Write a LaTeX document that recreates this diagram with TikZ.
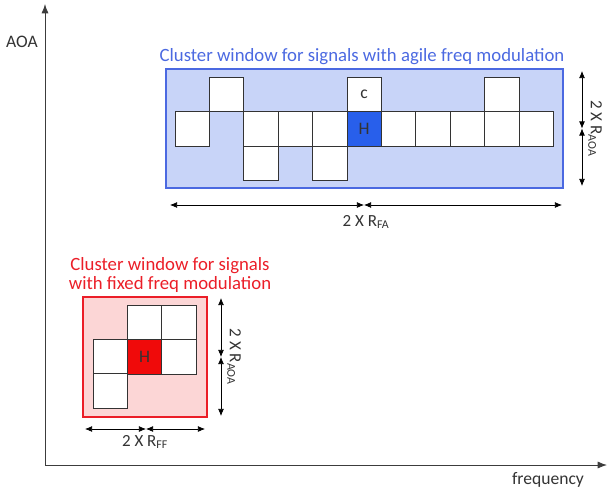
\documentclass[tikz,border=0pt]{standalone}
\usepackage{fontspec}
\setmainfont{Carlito}
\usetikzlibrary{arrows.meta}
\definecolor{agileblue}{RGB}{75,105,225}
\definecolor{agilefill}{RGB}{200,212,248}
\definecolor{agileh}{RGB}{40,95,235}
\definecolor{fixedred}{RGB}{235,30,40}
\definecolor{fixedfill}{RGB}{252,214,214}
\definecolor{fixedh}{RGB}{240,10,10}
\definecolor{axisgray}{RGB}{60,60,60}
\begin{document}
\begin{tikzpicture}[x=0.03cm,y=-0.03cm,
    cell/.style={draw=black!80,fill=white,minimum size=1.03cm,inner sep=0pt,line width=0.6pt,font=\fontsize{15}{16}\selectfont},
    win/.style={line width=1.2pt,inner sep=0pt},
    dim/.style={{Latex[length=6pt,width=5pt]}-{Latex[length=6pt,width=5pt]},line width=0.6pt},
    lbl/.style={font=\fontsize{14.5}{15}\selectfont,text=black!80},
    ttl/.style={font=\fontsize{16}{15.5}\selectfont}]
  \useasboundingbox (0,0) rectangle (608,491);
  % axes
  \coordinate (origin) at (45,465);
  \coordinate (ytop) at (45,4);
  \coordinate (xend) at (607,465);
  \draw [axisgray,line width=0.7pt,-{Latex[length=8pt,width=6pt]}] (origin)--(ytop);
  \draw [axisgray,line width=0.7pt,-{Latex[length=8pt,width=6pt]}] (origin)--(xend);
  \node [lbl,font=\fontsize{15}{16}\selectfont] (aoa) at (22,42) {AOA};
  \node [lbl,font=\fontsize{15}{16}\selectfont] (freq) at (548,480) {frequency};
  % agile window
  \node [win,draw=agileblue,fill=agilefill,minimum width=11.91cm,minimum height=3.57cm] (agile) at (364.5,128.5) {};
  \node [ttl,text=agileblue] (agiletitle) at (362,57) {Cluster window for signals with agile freq modulation};
  \foreach \i in {0,2,3,4,5,6,7,8,9,10}
    \node [cell] (am\i) at (192.2+34.4*\i,129) {};
  \foreach \i in {1,5,9}
    \node [cell] (at\i) at (192.2+34.4*\i,94.6) {};
  \foreach \i in {2,4}
    \node [cell] (ab\i) at (192.2+34.4*\i,163.4) {};
  \node [cell,fill=agileh,text=black!80] (ah) at (am5) {H};
  \node [cell,text=black!80] (ac) at (at5) {c};
  % agile dimensions
  \coordinate (ar1) at (582,71);
  \coordinate (ar2) at (582,128.5);
  \coordinate (ar3) at (582,186);
  \draw [dim] (ar1)--(ar2);
  \draw [dim] (ar2)--(ar3);
  \node [lbl,rotate=-90] (araoa) at (595,128.5) {2 X R\textsubscript{AOA}};
  \coordinate (ab1) at (170,205);
  \coordinate (ab2) at (364,205);
  \coordinate (ab3) at (562,205);
  \draw [dim] (ab1)--(ab2);
  \draw [dim] (ab2)--(ab3);
  \node [lbl] (abfa) at (366,222) {2 X R\textsubscript{FA}};
  % fixed window
  \node [win,draw=fixedred,fill=fixedfill,minimum width=3.72cm,minimum height=3.6cm] (fixed) at (145,357) {};
  \node [ttl,text=fixedred,align=center] (fixedtitle) at (170,275) {Cluster window for signals\\with fixed freq modulation};
  \node [cell] (f01) at (144.5,323) {};
  \node [cell] (f02) at (178.8,323) {};
  \node [cell] (f10) at (110.2,357) {};
  \node [cell,fill=fixedh,text=black!80] (fh) at (144.5,357) {H};
  \node [cell] (f12) at (178.8,357) {};
  \node [cell] (f20) at (110.2,391) {};
  % fixed dimensions
  \coordinate (fr1) at (221,298);
  \coordinate (fr2) at (221,357);
  \coordinate (fr3) at (221,416);
  \draw [dim] (fr1)--(fr2);
  \draw [dim] (fr2)--(fr3);
  \node [lbl,rotate=-90] (fraoa) at (234,357) {2 X R\textsubscript{AOA}};
  \coordinate (fb1) at (85,429);
  \coordinate (fb2) at (146,429);
  \coordinate (fb3) at (205,429);
  \draw [dim] (fb1)--(fb2);
  \draw [dim] (fb2)--(fb3);
  \node [lbl] (fbff) at (145,442) {2 X R\textsubscript{FF}};
\end{tikzpicture}
\end{document}
